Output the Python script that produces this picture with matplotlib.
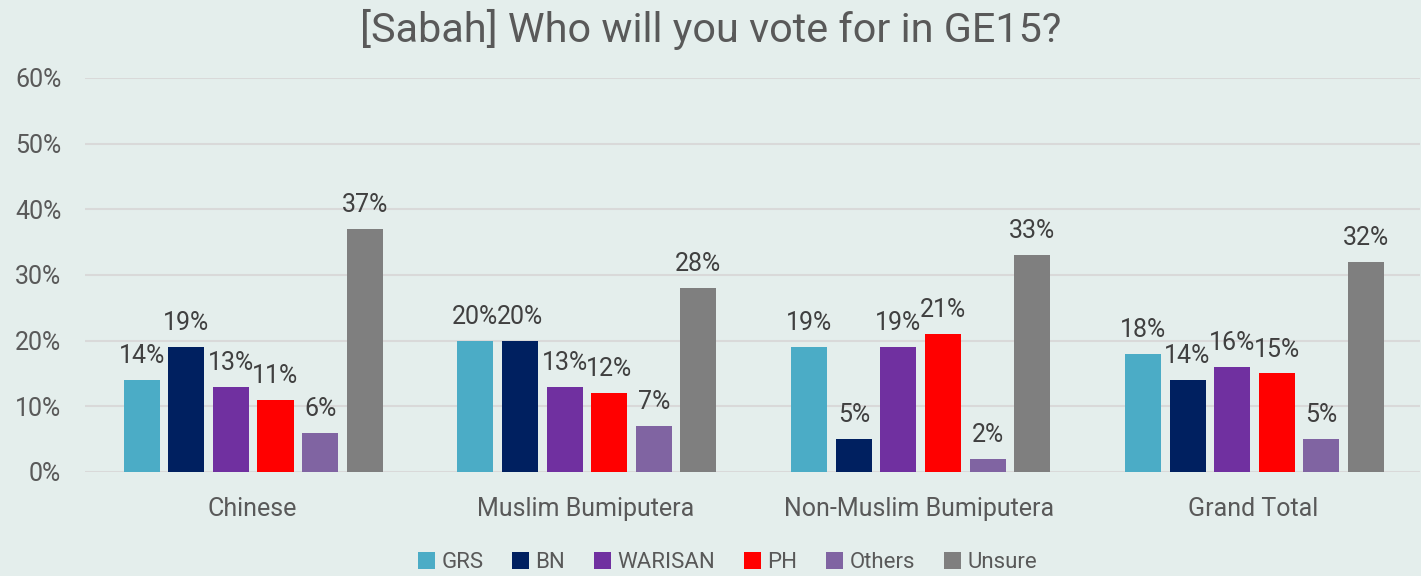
import matplotlib
matplotlib.use("Agg")
import matplotlib.pyplot as plt
import numpy as np

categories = ["Chinese", "Muslim Bumiputera", "Non-Muslim Bumiputera", "Grand Total"]
series_names = ["GRS", "BN", "WARISAN", "PH", "Others", "Unsure"]
GRS = [14, 20, 19, 18]
BN = [19, 20, 5, 14]
WARISAN = [13, 13, 19, 16]
PH = [11, 12, 21, 15]
Others = [6, 7, 2, 5]
Unsure = [37, 28, 33, 32]
series_values = [GRS, BN, WARISAN, PH, Others, Unsure]
colors = ["#4bacc6", "#002060", "#7030a0", "#ff0000", "#8064a2", "#7f7f7f"]
yticks = [0, 10, 20, 30, 40, 50, 60]
ytick_labels = ["0%", "10%", "20%", "30%", "40%", "50%", "60%"]

bg = "#e4eeec"
txt = "#595959"
plt.rcParams['font.family'] = ['Roboto', 'DejaVu Sans']

fig = plt.figure(figsize=(14.21, 5.76), dpi=100, facecolor=bg)
ax = fig.add_axes([0.0598, 0.1806, 0.9395, 0.684], facecolor=bg)

x = np.arange(len(categories))
step = 0.1336
width = 0.108
for i, (name, vals, c) in enumerate(zip(series_names, series_values, colors)):
    pos = x + (i - 2.5) * step + 0.004
    ax.bar(pos, vals, width=width, color=c, label=name, zorder=3, linewidth=0)
    for p, v in zip(pos, vals):
        ax.text(p, v + 1.8, f"{v}%", ha="center", va="bottom", fontsize=18,
                color="#404040", zorder=4)

ax.set_xlim(-0.5, len(categories) - 0.5)
ax.set_ylim(0, 60)
ax.set_yticks(yticks)
ax.set_yticklabels(ytick_labels)
ax.set_xticks(x)
ax.set_xticklabels(categories)
ax.tick_params(axis='both', length=0, colors=txt, labelsize=18)
ax.tick_params(axis='y', pad=17)
ax.tick_params(axis='x', pad=18)
ax.yaxis.grid(True, color="#d9d9d9", linewidth=1.5, zorder=0)
ax.set_axisbelow(True)
for s in ax.spines.values():
    s.set_visible(False)

fig.suptitle("[Sabah] Who will you vote for in GE15?", y=0.985, fontsize=29.8,
             color=txt, va="top")

leg = fig.legend(loc="lower center", bbox_to_anchor=(0.512, -0.03), ncol=6,
                 frameon=False, fontsize=16, handlelength=0.75, handleheight=0.75,
                 handletextpad=0.3, columnspacing=1.3)
for t in leg.get_texts():
    t.set_color(txt)

fig.savefig("out.png", dpi=100, facecolor=bg)
